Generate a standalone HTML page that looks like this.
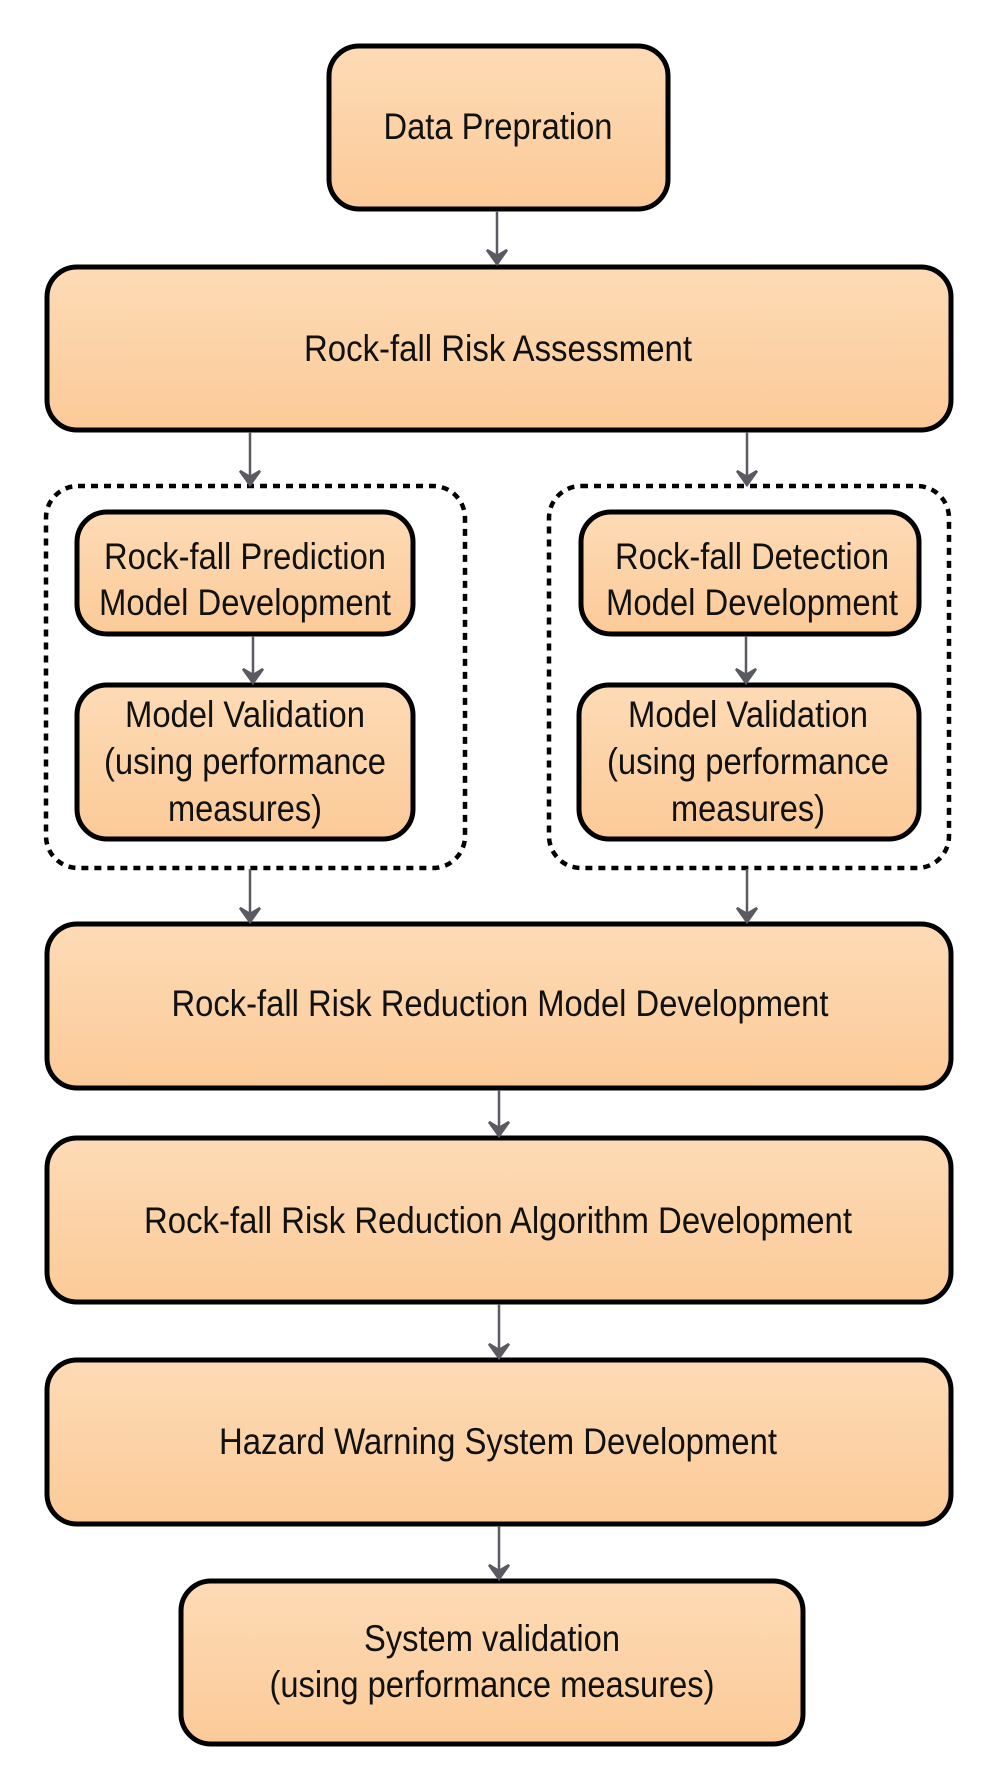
<!DOCTYPE html>
<html><head><meta charset="utf-8"><style>
html,body{margin:0;padding:0;background:#fff;}
svg{display:block;}
text{font-family:"Liberation Sans Narrow","Liberation Sans",sans-serif;font-size:37px;fill:#111;text-anchor:middle;}
</style></head><body>
<svg width="1000" height="1776" viewBox="0 0 1000 1776" xmlns="http://www.w3.org/2000/svg">
<defs>
<linearGradient id="g" x1="0" y1="0" x2="0" y2="1">
<stop offset="0" stop-color="#fddbb6"/><stop offset="1" stop-color="#fcca98"/>
</linearGradient>
</defs>
<g stroke="#000" stroke-width="5" fill="url(#g)">
<rect x="329" y="46" width="339" height="163" rx="30"/>
<rect x="47" y="267" width="904" height="163" rx="30"/>
<rect x="77" y="512" width="336" height="122" rx="30"/>
<rect x="77" y="685" width="336" height="154" rx="30"/>
<rect x="581" y="512" width="338" height="122" rx="30"/>
<rect x="579" y="685" width="340" height="154" rx="30"/>
<rect x="47" y="924" width="904" height="164" rx="30"/>
<rect x="47" y="1138" width="904" height="164" rx="30"/>
<rect x="47" y="1360" width="904" height="164" rx="30"/>
<rect x="181" y="1581" width="622" height="163" rx="30"/>
</g>
<g stroke="#000" stroke-width="4.5" fill="none" stroke-dasharray="7,6">
<rect x="46" y="486" width="419" height="382" rx="32"/>
<rect x="549" y="486" width="400" height="382" rx="32"/>
</g>
<g stroke="#5a5a62" stroke-width="2.5" fill="#5a5a62">
<line x1="497" y1="211" x2="497" y2="255"/><path d="M487 250 L497 264 L507 250 L497 256 Z"/>
<line x1="250" y1="432" x2="250" y2="476"/><path d="M240 471 L250 485 L260 471 L250 477 Z"/>
<line x1="747" y1="432" x2="747" y2="476"/><path d="M737 471 L747 485 L757 471 L747 477 Z"/>
<line x1="253" y1="636" x2="253" y2="674"/><path d="M243 669 L253 683 L263 669 L253 675 Z"/>
<line x1="746" y1="636" x2="746" y2="674"/><path d="M736 669 L746 683 L756 669 L746 675 Z"/>
<line x1="250" y1="869" x2="250" y2="913"/><path d="M240 908 L250 922 L260 908 L250 914 Z"/>
<line x1="747" y1="869" x2="747" y2="913"/><path d="M737 908 L747 922 L757 908 L747 914 Z"/>
<line x1="499" y1="1090" x2="499" y2="1127"/><path d="M489 1122 L499 1136 L509 1122 L499 1128 Z"/>
<line x1="499" y1="1304" x2="499" y2="1349"/><path d="M489 1344 L499 1358 L509 1344 L499 1350 Z"/>
<line x1="499" y1="1526" x2="499" y2="1570"/><path d="M489 1565 L499 1579 L509 1565 L499 1571 Z"/>
</g>
<text x="498" y="139" textLength="229" lengthAdjust="spacingAndGlyphs">Data Prepration</text>
<text x="498" y="361" textLength="388" lengthAdjust="spacingAndGlyphs">Rock-fall Risk Assessment</text>
<text x="245" y="569" textLength="282" lengthAdjust="spacingAndGlyphs">Rock-fall Prediction</text>
<text x="245" y="615" textLength="292" lengthAdjust="spacingAndGlyphs">Model Development</text>
<text x="245" y="727" textLength="240" lengthAdjust="spacingAndGlyphs">Model Validation</text>
<text x="245" y="774" textLength="282" lengthAdjust="spacingAndGlyphs">(using performance</text>
<text x="245" y="821" textLength="154" lengthAdjust="spacingAndGlyphs">measures)</text>
<text x="752" y="569" textLength="274" lengthAdjust="spacingAndGlyphs">Rock-fall Detection</text>
<text x="752" y="615" textLength="292" lengthAdjust="spacingAndGlyphs">Model Development</text>
<text x="748" y="727" textLength="240" lengthAdjust="spacingAndGlyphs">Model Validation</text>
<text x="748" y="774" textLength="282" lengthAdjust="spacingAndGlyphs">(using performance</text>
<text x="748" y="821" textLength="154" lengthAdjust="spacingAndGlyphs">measures)</text>
<text x="500" y="1016" textLength="657" lengthAdjust="spacingAndGlyphs">Rock-fall Risk Reduction Model Development</text>
<text x="498" y="1233" textLength="708" lengthAdjust="spacingAndGlyphs">Rock-fall Risk Reduction Algorithm Development</text>
<text x="498" y="1454" textLength="558" lengthAdjust="spacingAndGlyphs">Hazard Warning System Development</text>
<text x="492" y="1651" textLength="256" lengthAdjust="spacingAndGlyphs">System validation</text>
<text x="492" y="1697" textLength="445" lengthAdjust="spacingAndGlyphs">(using performance measures)</text>
</svg>
</body></html>
